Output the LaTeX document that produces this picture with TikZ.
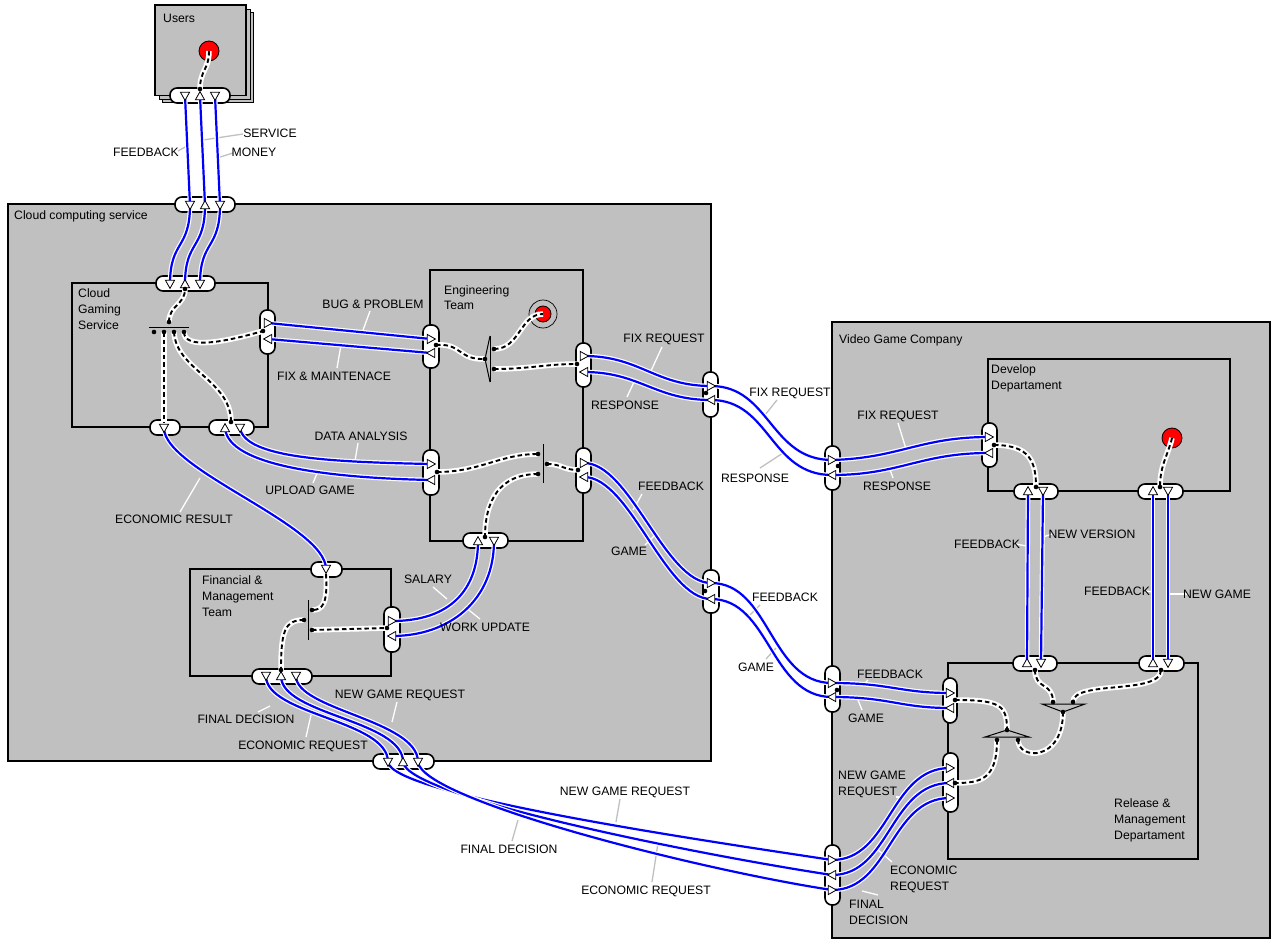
\documentclass[tikz,border=0pt]{standalone}
\usepackage{fontspec}
\setmainfont{Liberation Sans}
\definecolor{boxgray}{RGB}{192,192,192}
\definecolor{flowblue}{RGB}{0,0,255}
\definecolor{leadgray}{RGB}{192,192,192}
\tikzset{
  box/.style={draw=black, fill=boxgray, line width=1.6pt},
  shadowbox/.style={draw=black, fill=boxgray, line width=0.8pt},
  pill/.style={draw=black, fill=white, line width=1.6pt, rounded corners=7pt},
  flow/.style={draw=white, double=flowblue, double distance=2.2pt, line width=1.2pt},
  sig/.style={preaction={draw=white, line width=5.5pt}, draw=black, line width=1.9pt, dash pattern=on 4.5pt off 3pt},
  leadw/.style={draw=white, line width=1.3pt},
  leadg/.style={draw=leadgray, line width=1.3pt},
  tri/.style={draw=black, fill=white, line width=0.8pt},
  symbar/.style={draw=black, line width=1pt},
  lbl/.style={inner sep=0pt, text height=8.6pt, text depth=0pt},
}
\newcommand{\mytri}[2]{\draw[tri, shift={(#1)}, rotate=#2] (-3.8,-4.6) -- (4.4,0) -- (-3.8,4.6) -- cycle;}
\newcommand{\dotat}[1]{\fill[black] (#1) circle[radius=2.3pt];}
\begin{document}
\begin{tikzpicture}[x=1pt,y=-1pt,font=\fontsize{12.2}{14}\selectfont]
\useasboundingbox (0,0) rectangle (1281,952);
\fill[white] (0,0) rectangle (1281,952);
% ---------- boxes
\draw[shadowbox] (162,12) rectangle (253,102);
\draw[shadowbox] (159,9) rectangle (250,99);
\draw[box] (155,5) rectangle (246,95.5);
\draw[box] (8,204) rectangle (711,761);
\draw[box] (832,322) rectangle (1270,938);
\draw[box] (72,283) rectangle (268,427);
\draw[box] (430,270) rectangle (583,541);
\draw[box] (190,569) rectangle (391,676);
\draw[box] (988,359) rectangle (1230,491);
\draw[box] (948,663) rectangle (1198,859);
% ---------- coordinates
\coordinate (uA) at (185,96); \coordinate (uB) at (200,96); \coordinate (uC) at (215,96);
\coordinate (uD) at (200,89); \coordinate (uR) at (209,51);
\coordinate (ctA) at (190,205); \coordinate (ctB) at (205,205); \coordinate (ctC) at (220,205);
\coordinate (gtA) at (170,284); \coordinate (gtB) at (185,284); \coordinate (gtC) at (200,284);
\coordinate (gtD) at (185,289);
\coordinate (gbT) at (169,322); \coordinate (gb1) at (154,332); \coordinate (gb2) at (164,332);
\coordinate (gb3) at (174,332); \coordinate (gb4) at (184,332);
\coordinate (grA) at (268,323); \coordinate (grB) at (268,339); \coordinate (grD) at (263,331);
\coordinate (gb1A) at (164,428); \coordinate (gb1E) at (164,423);
\coordinate (gb2A) at (225,428); \coordinate (gb2B) at (240,428); \coordinate (gb2D) at (231,422);
\coordinate (elA) at (431,339); \coordinate (elB) at (431,353); \coordinate (elD) at (436,345);
\coordinate (efA) at (485,359); \coordinate (efU) at (494,349); \coordinate (efL) at (494,369);
\coordinate (eR) at (543,314);
\coordinate (erA) at (584,356); \coordinate (erB) at (584,372); \coordinate (erD) at (577,364);
\coordinate (er2A) at (584,463); \coordinate (er2B) at (584,477); \coordinate (er2D) at (578,470);
\coordinate (el2A) at (431,464); \coordinate (el2B) at (431,480); \coordinate (el2D) at (437,472);
\coordinate (ejU) at (538,454); \coordinate (ejL) at (538,474); \coordinate (ejR) at (547,464);
\coordinate (ebA) at (478,541); \coordinate (ebB) at (494,541); \coordinate (ebD) at (485,537);
\coordinate (ftA) at (326,569); \coordinate (ftD) at (326,574);
\coordinate (fbU) at (312,610); \coordinate (fbM) at (304,620); \coordinate (fbL) at (312,630);
\coordinate (frA) at (392,621); \coordinate (frB) at (392,636); \coordinate (frD) at (387,628);
\coordinate (fbA) at (266,676); \coordinate (fbB) at (281,676); \coordinate (fbC) at (296,676);
\coordinate (fbD) at (281,670);
\coordinate (cbA) at (388,762); \coordinate (cbB) at (403,762); \coordinate (cbC) at (418,762);
\coordinate (cr1A) at (711,386); \coordinate (cr1B) at (711,400); \coordinate (cr1D) at (706,393);
\coordinate (cr2A) at (711,583); \coordinate (cr2B) at (711,599); \coordinate (cr2D) at (705,591);
\coordinate (vl1A) at (832,460); \coordinate (vl1B) at (832,475); \coordinate (vl1D) at (838,466);
\coordinate (vl2A) at (832,683); \coordinate (vl2B) at (832,697); \coordinate (vl2D) at (837,690);
\coordinate (vl3A) at (832,860); \coordinate (vl3B) at (832,875); \coordinate (vl3C) at (832,890);
\coordinate (dlA) at (989,437); \coordinate (dlB) at (989,453); \coordinate (dlD) at (994,445);
\coordinate (db1A) at (1028,491); \coordinate (db1B) at (1043,491); \coordinate (db1D) at (1036,487);
\coordinate (db2A) at (1153,491); \coordinate (db2B) at (1168,491); \coordinate (db2D) at (1160,487);
\coordinate (dR) at (1172,438);
\coordinate (rt1A) at (1027,663); \coordinate (rt1B) at (1041,663); \coordinate (rt1D) at (1035,670);
\coordinate (rt2A) at (1153,663); \coordinate (rt2B) at (1168,663); \coordinate (rt2D) at (1161,670);
\coordinate (rl1A) at (950,693); \coordinate (rl1B) at (950,708); \coordinate (rl1D) at (955,700);
\coordinate (rl2A) at (950,768); \coordinate (rl2B) at (950,783); \coordinate (rl2C) at (950,798);
\coordinate (rl2D) at (955,783);
\coordinate (maL) at (1053,702); \coordinate (maR) at (1073,702); \coordinate (maB) at (1063,712);
\coordinate (mbT) at (1007,730); \coordinate (mbL) at (997,740); \coordinate (mbR) at (1018,740);
% ---------- red states
\draw[black, line width=0.7pt] (eR) circle[radius=14pt];
\draw[fill=red, draw=black, line width=0.8pt] (eR) circle[radius=8pt];
\draw[fill=red, draw=black, line width=0.8pt] (uR) circle[radius=10pt];
\draw[fill=red, draw=black, line width=0.8pt] (dR) circle[radius=10pt];
% ---------- symbols
\draw[symbar] (149,327) -- (189,327);
\draw[symbar] (490,336) -- (490,382);
\draw[symbar] (490,336) -- (485,359) -- (490,382);
\draw[symbar] (543,444) -- (543,483);
\draw[symbar] (308,600) -- (308,640);
\draw[symbar] (1042,704) -- (1085,704) -- (1063,712) -- cycle;
\draw[symbar] (985,737) -- (1029,737) -- (1007,730) -- cycle;
% ---------- ports
\draw[pill] (170,88) rectangle (230,103);
\draw[pill] (175,197) rectangle (235,212);
\draw[pill] (156,276) rectangle (215,291);
\draw[pill] (260,310) rectangle (275,354);
\draw[pill] (150,420) rectangle (180,435);
\draw[pill] (209,420) rectangle (254,435);
\draw[pill] (423,325) rectangle (439,368);
\draw[pill] (576,343) rectangle (591,387);
\draw[pill] (576,448) rectangle (591,493);
\draw[pill] (423,450) rectangle (439,495);
\draw[pill] (463,533) rectangle (508,548);
\draw[pill] (311,562) rectangle (342,577);
\draw[pill] (384,607) rectangle (400,652);
\draw[pill] (252,669) rectangle (312,684);
\draw[pill] (373,754) rectangle (434,769);
\draw[pill] (703,372) rectangle (718,417);
\draw[pill] (703,570) rectangle (719,613);
\draw[pill] (825,446) rectangle (840,490);
\draw[pill] (825,666) rectangle (840,712);
\draw[pill] (825,845) rectangle (840,905);
\draw[pill] (982,423) rectangle (997,467);
\draw[pill] (1014,484) rectangle (1058,499);
\draw[pill] (1138,484) rectangle (1183,499);
\draw[pill] (1013,656) rectangle (1057,671);
\draw[pill] (1139,656) rectangle (1184,671);
\draw[pill] (943,678) rectangle (957,723);
\draw[pill] (943,753) rectangle (958,812);
% ---------- leaders
\draw[leadg] (178,151) -- (187,146);
\draw[leadg] (243,134) -- (203,140);
\draw[leadg] (233,153) -- (217,158);
\draw[leadg] (777,400) -- (765,415);
\draw[leadg] (760,468) -- (783,453);
\draw[leadg] (760,605) -- (750,615);
\draw[leadg] (766,659) -- (776,648);
\draw[leadg] (620,799) -- (616,822);
\draw[leadg] (512,841) -- (518,820);
\draw[leadg] (652,882) -- (658,843);
\draw[leadw] (370,311) -- (362,333);
\draw[leadw] (337,368) -- (341,345);
\draw[leadw] (358,443) -- (355,461);
\draw[leadw] (313,483) -- (318,471);
\draw[leadw] (180,512) -- (200,478);
\draw[leadw] (433,587) -- (447,599);
\draw[leadw] (480,619) -- (465,607);
\draw[leadw] (397,702) -- (392,722);
\draw[leadw] (258,712) -- (270,706);
\draw[leadw] (306,737) -- (311,715);
\draw[leadw] (662,347) -- (650,373);
\draw[leadw] (627,397) -- (634,382);
\draw[leadw] (642,494) -- (633,510);
\draw[leadw] (645,545) -- (655,535);
\draw[leadw] (898,423) -- (906,449);
\draw[leadw] (893,478) -- (889,467);
\draw[leadw] (868,680) -- (862,686);
\draw[leadw] (862,710) -- (858,700);
\draw[leadw] (1015,544) -- (1027,546);
\draw[leadw] (1052,534) -- (1043,537);
\draw[leadw] (1146,591) -- (1153,592);
\draw[leadw] (1187,594) -- (1168,594);
\draw[leadw] (896,797) -- (904,797);
\draw[leadw] (878,850) -- (892,862);
\draw[leadw] (862,891) -- (878,895);
% ---------- flows
\draw[flow] (uA) -- (ctA);
\draw[flow] (uB) -- (ctB);
\draw[flow] (uC) -- (ctC);
\draw[flow] (ctA) .. controls (190,250) and (170,240) .. (gtA);
\draw[flow] (ctB) .. controls (205,250) and (185,240) .. (gtB);
\draw[flow] (ctC) .. controls (220,250) and (200,240) .. (gtC);
\draw[flow] (grA) -- (elA);
\draw[flow] (elB) -- (grB);
\draw[flow] (gb2B) .. controls (245,458) and (330,462) .. (el2A);
\draw[flow] (el2B) .. controls (330,478) and (228,466) .. (gb2A);
\draw[flow] (gb1A) .. controls (164,470) and (326,525) .. (ftA);
\draw[flow] (frA) .. controls (450,621) and (478,590) .. (ebA);
\draw[flow] (ebB) .. controls (494,600) and (450,636) .. (frB);
\draw[flow] (fbA) .. controls (266,715) and (388,720) .. (cbA);
\draw[flow] (cbB) .. controls (403,720) and (281,715) .. (fbB);
\draw[flow] (fbC) .. controls (296,710) and (418,720) .. (cbC);
\draw[flow] (cbA) .. controls (392,795) and (700,840) .. (vl3A);
\draw[flow] (vl3B) .. controls (700,855) and (407,797) .. (cbB);
\draw[flow] (cbC) .. controls (422,800) and (700,870) .. (vl3C);
\draw[flow] (vl3A) .. controls (890,860) and (890,768) .. (rl2A);
\draw[flow] (rl2B) .. controls (890,783) and (890,875) .. (vl3B);
\draw[flow] (vl3C) .. controls (890,890) and (890,798) .. (rl2C);
\draw[flow] (erA) .. controls (640,356) and (655,386) .. (cr1A);
\draw[flow] (cr1B) .. controls (655,400) and (640,372) .. (erB);
\draw[flow] (cr1A) .. controls (770,386) and (770,460) .. (vl1A);
\draw[flow] (vl1B) .. controls (770,475) and (770,400) .. (cr1B);
\draw[flow] (vl1A) .. controls (900,458) and (920,437) .. (dlA);
\draw[flow] (dlB) .. controls (920,453) and (900,475) .. (vl1B);
\draw[flow] (er2A) .. controls (630,463) and (665,583) .. (cr2A);
\draw[flow] (cr2B) .. controls (665,599) and (630,477) .. (er2B);
\draw[flow] (cr2A) .. controls (770,583) and (770,683) .. (vl2A);
\draw[flow] (vl2B) .. controls (770,697) and (770,599) .. (cr2B);
\draw[flow] (vl2A) .. controls (890,683) and (900,693) .. (rl1A);
\draw[flow] (rl1B) .. controls (900,708) and (890,697) .. (vl2B);
\draw[flow] (db1A) -- (rt1A);
\draw[flow] (db1B) -- (rt1B);
\draw[flow] (db2A) -- (rt2A);
\draw[flow] (db2B) -- (rt2B);
% ---------- signals
\draw[sig] (uR) .. controls (209,70) and (200,70) .. (uD);
\draw[sig] (gbT) .. controls (169,305) and (185,305) .. (gtD);
\draw[sig] (gb2) -- (gb1E);
\draw[sig] (gb3) .. controls (176,370) and (231,380) .. (gb2D);
\draw[sig] (gb4) .. controls (184,350) and (225,342) .. (grD);
\draw[sig] (elD) .. controls (462,343) and (458,360) .. (efA);
\draw[sig] (efU) .. controls (520,349) and (520,314) .. (eR);
\draw[sig] (efL) .. controls (530,369) and (545,364) .. (erD);
\draw[sig] (el2D) .. controls (480,472) and (500,454) .. (ejU);
\draw[sig] (ejL) .. controls (500,474) and (485,500) .. (ebD);
\draw[sig] (ejR) .. controls (562,464) and (563,470) .. (er2D);
\draw[sig] (ftD) .. controls (328,605) and (322,610) .. (fbU);
\draw[sig] (fbM) .. controls (285,620) and (281,630) .. (fbD);
\draw[sig] (fbL) -- (frD);
\draw[sig] (dlD) .. controls (1030,445) and (1036,462) .. (db1D);
\draw[sig] (dR) .. controls (1168,455) and (1160,465) .. (db2D);
\draw[sig] (rt1D) .. controls (1035,690) and (1053,682) .. (maL);
\draw[sig] (rt2D) .. controls (1161,695) and (1073,680) .. (maR);
\draw[sig] (maB) .. controls (1063,762) and (1018,760) .. (mbR);
\draw[sig] (rl1D) .. controls (1000,700) and (1007,705) .. (mbT);
\draw[sig] (mbL) .. controls (997,780) and (980,783) .. (rl2D);
% ---------- triangles
\mytri{uA}{-90} \mytri{uB}{90} \mytri{uC}{-90}
\mytri{ctA}{-90} \mytri{ctB}{90} \mytri{ctC}{-90}
\mytri{gtA}{-90} \mytri{gtB}{90} \mytri{gtC}{-90}
\mytri{grA}{0} \mytri{grB}{180}
\mytri{gb1A}{-90}
\mytri{gb2A}{90} \mytri{gb2B}{-90}
\mytri{elA}{0} \mytri{elB}{180}
\mytri{erA}{0} \mytri{erB}{180}
\mytri{er2A}{0} \mytri{er2B}{180}
\mytri{el2A}{0} \mytri{el2B}{180}
\mytri{ebA}{90} \mytri{ebB}{-90}
\mytri{ftA}{-90}
\mytri{frA}{0} \mytri{frB}{180}
\mytri{fbA}{-90} \mytri{fbB}{90} \mytri{fbC}{-90}
\mytri{cbA}{-90} \mytri{cbB}{90} \mytri{cbC}{-90}
\mytri{cr1A}{0} \mytri{cr1B}{180}
\mytri{cr2A}{0} \mytri{cr2B}{180}
\mytri{vl1A}{0} \mytri{vl1B}{180}
\mytri{vl2A}{0} \mytri{vl2B}{180}
\mytri{vl3A}{0} \mytri{vl3B}{180} \mytri{vl3C}{0}
\mytri{dlA}{0} \mytri{dlB}{180}
\mytri{db1A}{90} \mytri{db1B}{-90}
\mytri{db2A}{90} \mytri{db2B}{-90}
\mytri{rt1A}{90} \mytri{rt1B}{-90}
\mytri{rt2A}{90} \mytri{rt2B}{-90}
\mytri{rl1A}{0} \mytri{rl1B}{180}
\mytri{rl2A}{0} \mytri{rl2B}{180} \mytri{rl2C}{0}
% ---------- dots
\dotat{uD} \dotat{gtD} \dotat{gbT} \dotat{gb1} \dotat{gb2} \dotat{gb3} \dotat{gb4}
\dotat{grD} \dotat{gb2D} \dotat{elD} \dotat{efA} \dotat{efU} \dotat{efL} \dotat{erD}
\dotat{er2D} \dotat{el2D} \dotat{ejU} \dotat{ejL} \dotat{ejR} \dotat{ebD}
\dotat{fbU} \dotat{fbM} \dotat{fbL} \dotat{frD} \dotat{fbD}
\dotat{cr1D} \dotat{cr2D} \dotat{vl1D} \dotat{vl2D}
\dotat{dlD} \dotat{db1D} \dotat{db2D} \dotat{rt1D} \dotat{rt2D} \dotat{rl1D} \dotat{rl2D}
\dotat{maL} \dotat{maR} \dotat{maB} \dotat{mbT} \dotat{mbL} \dotat{mbR}
% ---------- labels
\node[lbl, anchor=west] (tUsers) at (163,18) {Users};
\node[lbl, anchor=west] (tCloud) at (14,215) {Cloud computing service};
\node[lbl, anchor=west] (tCGS1) at (78,293) {Cloud};
\node[lbl, anchor=west] (tCGS2) at (78,309) {Gaming};
\node[lbl, anchor=west] (tCGS3) at (78,325) {Service};
\node[lbl, anchor=west] (tEng1) at (444,290) {Engineering};
\node[lbl, anchor=west] (tEng2) at (444,305) {Team};
\node[lbl, anchor=west] (tFin1) at (202,580) {Financial \&};
\node[lbl, anchor=west] (tFin2) at (202,596) {Management};
\node[lbl, anchor=west] (tFin3) at (202,612) {Team};
\node[lbl, anchor=west] (tVGC) at (839,339) {Video Game Company};
\node[lbl, anchor=west] (tDev1) at (991,369) {Develop};
\node[lbl, anchor=west] (tDev2) at (991,385) {Departament};
\node[lbl, anchor=west] (tRM1) at (1114,803) {Release \&};
\node[lbl, anchor=west] (tRM2) at (1114,819) {Management};
\node[lbl, anchor=west] (tRM3) at (1114,835) {Departament};
\node[lbl] (lFeed0) at (146,152) {FEEDBACK};
\node[lbl] (lServ) at (270,133) {SERVICE};
\node[lbl] (lMoney) at (254,152) {MONEY};
\node[lbl] (lBug) at (373,304) {BUG \& PROBLEM};
\node[lbl] (lFix) at (334,376) {FIX \& MAINTENACE};
\node[lbl] (lData) at (361,436) {DATA ANALYSIS};
\node[lbl] (lUp) at (310,490) {UPLOAD GAME};
\node[lbl] (lEcoRes) at (174,519) {ECONOMIC RESULT};
\node[lbl] (lSal) at (428,579) {SALARY};
\node[lbl] (lWork) at (485,627) {WORK UPDATE};
\node[lbl] (lNGR1) at (400,694) {NEW GAME REQUEST};
\node[lbl] (lFD1) at (246,719) {FINAL DECISION};
\node[lbl] (lER1) at (303,745) {ECONOMIC REQUEST};
\node[lbl] (lFR1) at (664,338) {FIX REQUEST};
\node[lbl] (lRe1) at (625,405) {RESPONSE};
\node[lbl] (lFb1) at (671,486) {FEEDBACK};
\node[lbl] (lGa1) at (629,551) {GAME};
\node[lbl] (lFR2) at (790,392) {FIX REQUEST};
\node[lbl] (lRe2) at (755,478) {RESPONSE};
\node[lbl] (lFb2) at (785,597) {FEEDBACK};
\node[lbl] (lGa2) at (756,667) {GAME};
\node[lbl] (lNGR2) at (625,791) {NEW GAME REQUEST};
\node[lbl] (lFD2) at (509,849) {FINAL DECISION};
\node[lbl] (lER2) at (646,890) {ECONOMIC REQUEST};
\node[lbl] (lFR3) at (898,415) {FIX REQUEST};
\node[lbl] (lRe3) at (897,486) {RESPONSE};
\node[lbl] (lFb3) at (890,674) {FEEDBACK};
\node[lbl] (lGa3) at (866,718) {GAME};
\node[lbl] (lFb4) at (987,544) {FEEDBACK};
\node[lbl] (lNV) at (1092,534) {NEW VERSION};
\node[lbl] (lFb5) at (1117,591) {FEEDBACK};
\node[lbl] (lNG) at (1217,594) {NEW GAME};
\node[lbl, anchor=west] (lNGR3a) at (838,775) {NEW GAME};
\node[lbl, anchor=west] (lNGR3b) at (838,791) {REQUEST};
\node[lbl, anchor=west] (lER3a) at (890,870) {ECONOMIC};
\node[lbl, anchor=west] (lER3b) at (890,886) {REQUEST};
\node[lbl, anchor=west] (lFD3a) at (849,904) {FINAL};
\node[lbl, anchor=west] (lFD3b) at (849,920) {DECISION};
\end{tikzpicture}
\end{document}
